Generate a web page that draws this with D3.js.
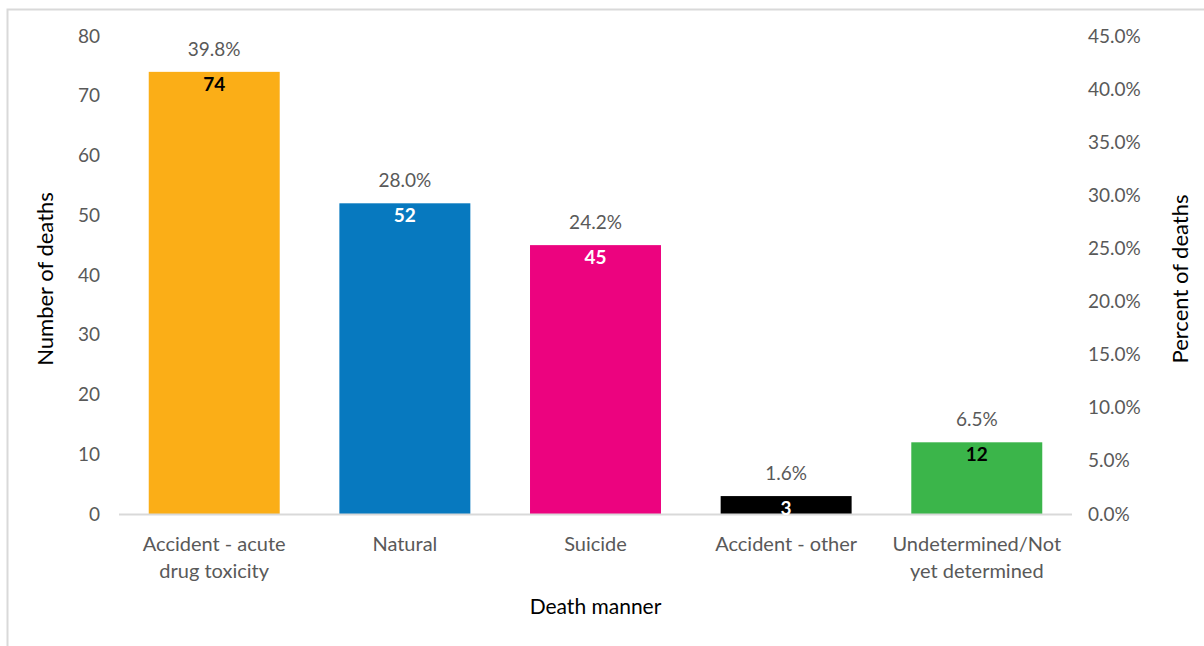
<!DOCTYPE html>
<html>
<head>
<meta charset="utf-8">
<script src="https://cdn.jsdelivr.net/npm/d3@7"></script>
<style>
  body { margin: 0; background: #fff; }
  text { font-family: Lato, "Open Sans", sans-serif; }
</style>
</head>
<body>
<div id="chart"></div>
<script>
// Data
var categories = [
  ["Accident - acute", "drug toxicity"],
  ["Natural"],
  ["Suicide"],
  ["Accident - other"],
  ["Undetermined/Not", "yet determined"]
];
var deaths = [74, 52, 45, 3, 12];
var percents = [39.8, 28.0, 24.2, 1.6, 6.5];
var barColors = ["#FBAE17", "#0779BF", "#EC037F", "#000000", "#3BB54A"];
var countLabelColors = ["#000", "#fff", "#fff", "#fff", "#000"];
var leftTicks = [0, 10, 20, 30, 40, 50, 60, 70, 80];
var rightTicks = [0, 5, 10, 15, 20, 25, 30, 35, 40, 45];

var svgWidth = 1204;
var svgHeight = 646;

var margin = { top: 36, right: 132, bottom: 132, left: 119 };
var chartWidth = svgWidth - margin.left - margin.right;
var chartHeight = svgHeight - margin.top - margin.bottom;

var svg = d3.select("#chart")
  .append("svg")
  .attr("width", svgWidth)
  .attr("height", svgHeight);

// Outer frame
svg.append("rect")
  .attr("x", 7.5)
  .attr("y", 9.5)
  .attr("width", 1250)
  .attr("height", 700)
  .attr("fill", "none")
  .attr("stroke", "#d9d9d9")
  .attr("stroke-width", 2);

var chartGroup = svg.append("g")
  .attr("transform", `translate(${margin.left}, ${margin.top})`);

var xScale = d3.scaleBand()
  .domain(d3.range(categories.length))
  .range([0, chartWidth])
  .paddingInner(0.313)
  .paddingOuter(0.156);

var yScale = d3.scaleLinear()
  .domain([0, 80])
  .range([chartHeight, 0]);

var yScaleRight = d3.scaleLinear()
  .domain([0, 45])
  .range([chartHeight, 0]);

// Left axis
var leftAxis = d3.axisLeft(yScale)
  .tickValues(leftTicks)
  .tickSize(0)
  .tickPadding(19);

var leftG = chartGroup.append("g").call(leftAxis);
leftG.select(".domain").remove();
leftG.selectAll("text")
  .attr("font-size", "19px")
  .attr("fill", "#595959")
  .style("font-family", "Lato, sans-serif");

// Right axis
var rightAxis = d3.axisRight(yScaleRight)
  .tickValues(rightTicks)
  .tickSize(0)
  .tickPadding(16)
  .tickFormat(d => d.toFixed(1) + "%");

var rightG = chartGroup.append("g")
  .attr("transform", `translate(${chartWidth}, 0)`)
  .call(rightAxis);
rightG.select(".domain").remove();
rightG.selectAll("text")
  .attr("font-size", "19px")
  .attr("fill", "#595959")
  .style("font-family", "Lato, sans-serif");

// Bars
chartGroup.selectAll(".bar")
  .data(deaths)
  .enter()
  .append("rect")
  .attr("class", "bar")
  .attr("x", (d, i) => xScale(i))
  .attr("y", d => yScale(d))
  .attr("width", xScale.bandwidth())
  .attr("height", d => chartHeight - yScale(d))
  .attr("fill", (d, i) => barColors[i]);

// Baseline
chartGroup.append("line")
  .attr("x1", 0)
  .attr("x2", chartWidth)
  .attr("y1", chartHeight + 0.5)
  .attr("y2", chartHeight + 0.5)
  .attr("stroke", "#d9d9d9")
  .attr("stroke-width", 2);

// Count labels inside bars
chartGroup.selectAll(".count")
  .data(deaths)
  .enter()
  .append("text")
  .attr("class", "count")
  .attr("x", (d, i) => xScale(i) + xScale.bandwidth() / 2)
  .attr("y", d => yScale(d) + 19)
  .attr("text-anchor", "middle")
  .attr("font-size", "19px")
  .attr("font-weight", "bold")
  .attr("fill", (d, i) => countLabelColors[i])
  .text(d => d);

// Percent labels above bars
chartGroup.selectAll(".pct")
  .data(percents)
  .enter()
  .append("text")
  .attr("class", "pct")
  .attr("x", (d, i) => xScale(i) + xScale.bandwidth() / 2)
  .attr("y", (d, i) => yScale(deaths[i]) - 16)
  .attr("text-anchor", "middle")
  .attr("font-size", "19px")
  .attr("fill", "#595959")
  .text(d => d.toFixed(1) + "%");

// Category labels
var catG = chartGroup.selectAll(".cat")
  .data(categories)
  .enter()
  .append("text")
  .attr("class", "cat")
  .attr("x", (d, i) => xScale(i) + xScale.bandwidth() / 2)
  .attr("y", chartHeight + 37)
  .attr("text-anchor", "middle")
  .attr("font-size", "20px")
  .attr("fill", "#595959");

catG.selectAll("tspan")
  .data(d => d)
  .enter()
  .append("tspan")
  .attr("x", function() { return d3.select(this.parentNode).attr("x"); })
  .attr("dy", (d, i) => i === 0 ? 0 : 27)
  .text(d => d);

// Axis titles
chartGroup.append("text")
  .attr("transform", `translate(${chartWidth / 2}, ${chartHeight + 100})`)
  .attr("text-anchor", "middle")
  .attr("font-size", "21px")
  .attr("fill", "#000")
  .text("Death manner");

chartGroup.append("text")
  .attr("transform", `translate(-66, ${chartHeight / 2 + 4}) rotate(-90)`)
  .attr("text-anchor", "middle")
  .attr("font-size", "22px")
  .attr("fill", "#000")
  .text("Number of deaths");

chartGroup.append("text")
  .attr("transform", `translate(${chartWidth + 116}, ${chartHeight / 2 + 4}) rotate(-90)`)
  .attr("text-anchor", "middle")
  .attr("font-size", "22px")
  .attr("fill", "#000")
  .text("Percent of deaths");
</script>
</body>
</html>
